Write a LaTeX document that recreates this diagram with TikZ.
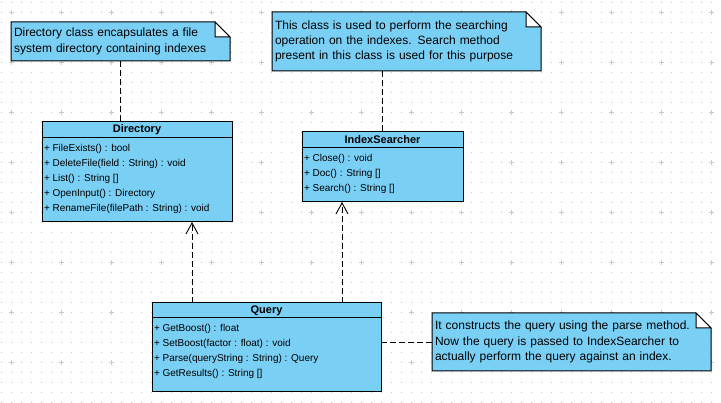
\documentclass[tikz,border=0pt]{standalone}
\usepackage{fontspec}
\setmainfont{Liberation Sans}
\usetikzlibrary{arrows.meta,backgrounds}
\definecolor{umlblue}{RGB}{122,207,245}
\definecolor{gridgray}{RGB}{200,200,200}

\begin{document}
\begin{tikzpicture}[x=1pt, y=-1pt, every node/.style={inner sep=0pt, outer sep=0pt},
	note/.style={anchor=north west, inner xsep=3pt, align=left, font=\fontsize{12}{15.3}\selectfont},
	notebody/.style={fill=umlblue, draw=black, line width=1pt},
	classbox/.style={anchor=north west, fill=umlblue, draw=black, line width=1pt},
	classname/.style={font=\fontsize{11}{13}\selectfont\bfseries},
	members/.style={anchor=north west, align=left, font=\fontsize{10}{15}\selectfont},
	noteline/.style={dash pattern=on 6pt off 3pt, line width=0.9pt},
	dependency/.style={noteline, -{Straight Barb[length=11pt, width=12pt]}}]
	\useasboundingbox (0,0) rectangle (721,403);
	% dotted background grid
	\begin{scope}[on background layer]
		\fill[gridgray] \foreach \x in {1,11,...,721} {\foreach \y in {2,12,...,402} {(\x,\y) rectangle ++(1,1)}};
		\foreach \x in {11,61,...,711} \foreach \y in {12,62,...,362}
			\draw[gridgray, line width=0.8pt] (\x-2,\y+0.5) -- (\x+3,\y+0.5) (\x+0.5,\y-2) -- (\x+0.5,\y+3);
	\end{scope}
	% Notes
	\node (dirnote)		[note, text width=213pt, minimum height=39pt] at (11,22)	{Directory class encapsulates a file\\system directory containing indexes};
	\node (searchnote)	[note, text width=263pt, minimum height=59pt] at (272,12)	{This class is used to perform the searching\\operation on the indexes. Search method\\present in this class is used for this purpose};
	\node (querynote)	[note, text width=273pt, minimum height=58pt] at (432,313)	{It constructs the query using the parse method.\\Now the query is passed to IndexSearcher to\\actually perform the query against an index.};
	\begin{scope}[on background layer]
		\foreach \n in {dirnote, searchnote, querynote} {
			\draw[notebody] (\n.south west) -- (\n.north west) -- ([xshift=-15pt]\n.north east) -- ([yshift=-15pt]\n.north east) -- (\n.south east) -- cycle;
			\draw[notebody, fill=white] ([xshift=-15pt]\n.north east) -- ([xshift=-15pt, yshift=-15pt]\n.north east) -- ([yshift=-15pt]\n.north east) -- cycle;
		}
	\end{scope}
	% Classes
	\node (Directory)	[classbox, minimum width=190pt, minimum height=100pt] at (42,122) {};
	\node [classname] at ([yshift=-8pt]Directory.north) {Directory};
	\draw[line width=1pt] ([yshift=-16pt]Directory.north west) -- ([yshift=-16pt]Directory.north east);
	\node [members] at ([shift={(2,19)}]Directory.north west) {\strut+ FileExists() : bool\\+ DeleteFile(field : String) : void\\+ List() : String []\\+ OpenInput() : Directory\\+ RenameFile(filePath : String) : void};

	\node (IndexSearcher)	[classbox, minimum width=161pt, minimum height=70pt] at (302,132) {};
	\node [classname] at ([yshift=-8pt]IndexSearcher.north) {IndexSearcher};
	\draw[line width=1pt] ([yshift=-16pt]IndexSearcher.north west) -- ([yshift=-16pt]IndexSearcher.north east);
	\node [members] at ([shift={(2,19)}]IndexSearcher.north west) {\strut+ Close() : void\\+ Doc() : String []\\+ Search() : String []};

	\node (Query)	[classbox, minimum width=229pt, minimum height=89pt] at (152,303) {};
	\node [classname] at ([yshift=-8pt]Query.north) {Query};
	\draw[line width=1pt] ([yshift=-15pt]Query.north west) -- ([yshift=-15pt]Query.north east);
	\node [members] at ([shift={(2,18)}]Query.north west) {\strut+ GetBoost() : float\\+ SetBoost(factor : float) : void\\+ Parse(queryString : String) : Query\\+ GetResults() : String []};
	% Connectors
	\coordinate (q1) at ([xshift=40pt]Query.north west);
	\coordinate (q2) at ([xshift=-39pt]Query.north east);
	\draw[noteline]		(dirnote) -- (dirnote |- Directory.north);
	\draw[noteline]		(IndexSearcher.north |- searchnote.south) -- (IndexSearcher);
	\draw[noteline]		(Query.east |- querynote.west) -- (querynote);
	\draw[dependency]	(q1) -- (q1 |- Directory.south);
	\draw[dependency]	(q2) -- (q2 |- IndexSearcher.south);
\end{tikzpicture}
\end{document}
